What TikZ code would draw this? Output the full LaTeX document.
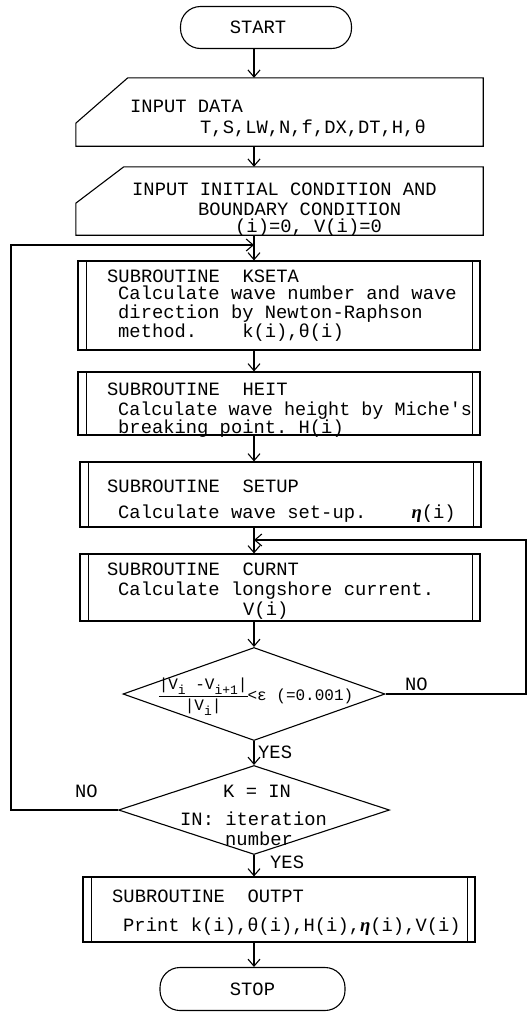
\documentclass[tikz,border=0pt]{standalone}
\usepackage{fontspec}
\setmonofont{Liberation Mono}
\newfontfamily\serifgreek{Liberation Serif}
\usetikzlibrary{arrows.meta,shapes.geometric,calc}
\newcommand\etaglyph{{\serifgreek\bfseries\itshape η}}
\newcommand\lowsub[1]{\raisebox{-0.3em}{\fontsize{13}{13}\selectfont #1}}
\begin{document}
\begin{tikzpicture}[x=1pt,y=-1pt,
  every node/.style={font=\ttfamily\fontsize{18.8}{22}\selectfont, inner sep=0pt},
  txt/.style={anchor=base west},
  ctxt/.style={anchor=base},
  arr/.style={-{Straight Barb[length=7pt,width=12pt]}},
  line/.style={line width=1.1pt},
  term/.style={draw, line width=1.1pt, rounded corners=20pt, minimum height=42pt},
  subr/.style={draw, line width=1.1pt, path picture={
     \draw[line width=1.1pt] ([xshift=8.5pt]path picture bounding box.north west) -- ([xshift=8.5pt]path picture bounding box.south west)
       ([xshift=-7.5pt]path picture bounding box.north east) -- ([xshift=-7.5pt]path picture bounding box.south east);}},
  dec/.style={diamond, draw, line width=1.1pt}
]
\useasboundingbox (0,0) rectangle (527,1012);
\coordinate (ax) at (254,0);
\coordinate (lx) at (11,0);
\coordinate (rx) at (526,0);

% START
\node[term, minimum width=171pt] (start) at (266,27.5) {\hspace*{-16pt}START};

% INPUT DATA
\node[minimum width=407pt, minimum height=68pt] (in1) at (279.5,112) {};
\draw[line] (in1.south west) -- ([yshift=23pt]in1.south west) -- ([xshift=52pt]in1.north west) -- (in1.north east) -- (in1.south east) -- cycle;
\node[txt] (in1a) at (130,112) {INPUT DATA};
\node[txt] (in1b) at (200,133) {T,S,LW,N,f,DX,DT,H,θ};

% INPUT INITIAL
\node[minimum width=407pt, minimum height=68pt] (in2) at (279.5,201) {};
\draw[line] (in2.south west) -- ([yshift=32pt]in2.south west) -- ([xshift=48pt]in2.north west) -- (in2.north east) -- (in2.south east) -- cycle;
\node[txt] (in2a) at (132,195) {INPUT INITIAL CONDITION AND};
\node[txt] (in2b) at (198,215) {BOUNDARY CONDITION};
\node[txt] (in2c) at (235,232) {(i)=0, V(i)=0};

% KSETA
\node[subr, minimum width=402pt, minimum height=89pt] (kseta) at (279,305.5) {};
\node[txt] (k1) at (107,282) {SUBROUTINE\ \ KSETA};
\node[txt] (k2) at (118,299) {Calculate wave number and wave};
\node[txt] (k3) at (118,318) {direction by Newton-Raphson};
\node[txt] (k4) at (118,337) {method.\ \ \ \ k(i),θ(i)};

% HEIT
\node[subr, minimum width=402pt, minimum height=63pt] (heit) at (279,403.5) {};
\node[txt] (h1) at (107,395) {SUBROUTINE\ \ HEIT};
\node[txt] (h2) at (118,415) {\scalebox{0.98}[1]{Calculate wave height by Miche's}};
\node[txt] (h3) at (118,433) {breaking point. H(i)};

% SETUP
\node[subr, minimum width=401pt, minimum height=65pt] (setup) at (280.5,494.5) {};
\node[txt] (s1) at (107,492) {SUBROUTINE\ \ SETUP};
\node[txt] (s2) at (118,518) {Calculate wave set-up.\ \ \ \ \etaglyph(i)};

% CURNT
\node[subr, minimum width=400pt, minimum height=67pt] (curnt) at (280,587.5) {};
\node[txt] (c1) at (107,575) {SUBROUTINE\ \ CURNT};
\node[txt] (c2) at (118,595) {Calculate longshore current.};
\node[txt] (c3) at (243,615) {V(i)};

% decision 1
\node[dec, minimum width=262pt, minimum height=93pt] (d1) at (254,694) {};
\node[font=\ttfamily\fontsize{16}{18}\selectfont] (cond) at (256,696)
  {\renewcommand\arraystretch{1.1}\setlength\arrayrulewidth{1pt}%
   \begin{tabular}{@{}c@{}}|V\lowsub{i}~-V\lowsub{i+1}|\\\hline |V\lowsub{i}|\end{tabular}<ε (=0.001)};
\node[txt] (no1) at (405,690) {NO};
\node[txt] (yes1) at (258,758) {YES};

% decision 2
\node[dec, minimum width=271pt, minimum height=89pt] (d2) at (254,810) {};
\node[txt] (kin) at (223,797) {K = IN};
\node[txt] (it1) at (180,825) {IN: iteration};
\node[txt] (it2) at (225,845) {number};
\node[txt] (no2) at (75,797) {NO};
\node[txt] (yes2) at (270,868) {YES};

% OUTPT
\node[subr, minimum width=392pt, minimum height=65pt] (outpt) at (279,909.5) {};
\node[txt] (o1) at (112,902) {SUBROUTINE\ \ OUTPT};
\node[txt] (o2) at (123,931) {Print k(i),θ(i),H(i),\etaglyph(i),V(i)};

% STOP
\node[term, minimum width=185pt, minimum height=43pt] (stop) at (252.5,989) {STOP};

% connectors
\draw[line,arr] (start.south -| ax) -- (in1.north -| ax);
\draw[line,arr] (in1.south -| ax) -- (in2.north -| ax);
\draw[line,arr] (in2.south -| ax) -- (kseta.north -| ax);
\coordinate (j1) at (254,245);
\draw[line,arr] (d2.west) -- (d2.west -| lx) |- (j1);
\draw[line,arr] (kseta.south -| ax) -- (heit.north -| ax);
\draw[line,arr] (heit.south -| ax) -- (setup.north -| ax);
\draw[line,arr] (setup.south -| ax) -- (curnt.north -| ax);
\coordinate (j2) at (254,540);
\draw[line,arr] (d1.east) -- (d1.east -| rx) |- (j2);
\draw[line,arr] (curnt.south -| ax) -- (d1.north);
\draw[line,arr] (d1.south) -- (d2.north);
\draw[line,arr] (d2.south) -- (outpt.north -| ax);
\draw[line,arr] (outpt.south -| ax) -- (stop.north -| ax);
\end{tikzpicture}
\end{document}
